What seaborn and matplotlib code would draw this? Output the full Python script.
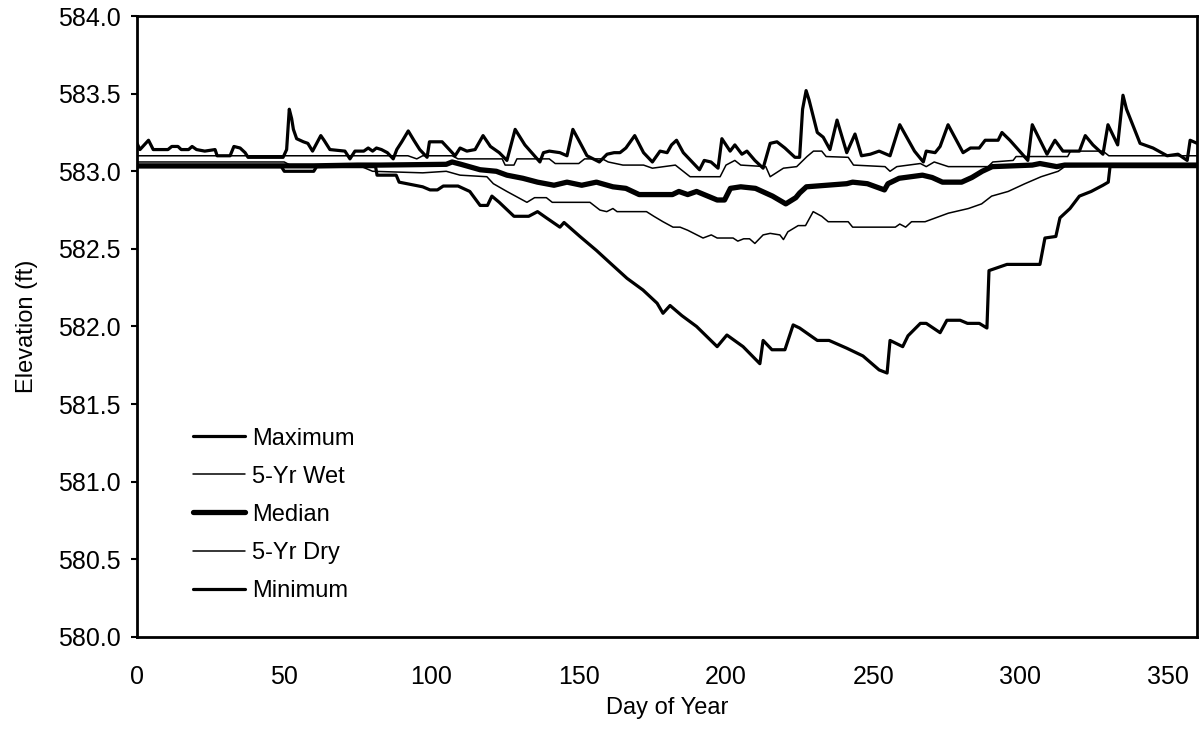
import matplotlib
matplotlib.use("Agg")
import matplotlib.pyplot as plt
import seaborn as sns
import pandas as pd

# Daily lake elevation statistics (ft) by day of year
max_day = [0, 1, 3.9, 5.5, 10.5, 11.8, 13.9, 15, 17.5, 18.7, 20.2, 23, 26.5, 27.2, 31.6, 32.9, 35,
           36.7, 37.7, 49.6, 50.8, 51.7, 52.5, 53.1, 54.2, 56.5, 58, 59.6, 62.4, 63.5, 65.5, 70.6,
           72.3, 74, 77, 78.5, 80, 81.3, 83, 85, 87, 88.2, 89.9, 92.1, 94, 96, 98.5, 99.3, 103.6,
           108, 109.7, 112, 114.8, 117.5, 120, 123, 125.6, 128.4, 131.7, 136.8, 138, 140, 143.6,
           146, 148, 150, 152.8, 157, 159.6, 162, 164, 166, 169, 172, 175, 177.6, 180, 181.5,
           183.2, 185.5, 189, 191, 192.6, 194.9, 197.3, 198.6, 201.4, 203, 205.4, 207.1, 209.8,
           212.6, 215, 217.3, 220, 223.4, 225, 226, 227.2, 228.2, 231, 233, 235.3, 237.7, 241,
           243.8, 246, 249, 252, 255.7, 259, 264, 267, 268, 271, 272.7, 275.4, 280.5, 283, 286,
           288, 292.4, 293.7, 296.4, 302.5, 304, 309, 311.7, 314.4, 320, 322, 324.6, 328, 329.7,
           333, 334.8, 336, 340.6, 345, 349.8, 353.5, 356.6, 357.6, 360]
max_elev = [583.18, 583.14, 583.20, 583.14, 583.14, 583.16, 583.16, 583.14, 583.14, 583.16, 583.14,
            583.13, 583.14, 583.10, 583.10, 583.16, 583.15, 583.12, 583.09, 583.09, 583.14, 583.40,
            583.34, 583.27, 583.21, 583.19, 583.18, 583.13, 583.23, 583.20, 583.14, 583.13, 583.08,
            583.13, 583.13, 583.15, 583.13, 583.15, 583.14, 583.12, 583.08, 583.14, 583.19, 583.26,
            583.20, 583.14, 583.09, 583.19, 583.19, 583.10, 583.15, 583.13, 583.14, 583.23, 583.16,
            583.12, 583.07, 583.27, 583.17, 583.06, 583.12, 583.13, 583.12, 583.10, 583.27, 583.20,
            583.10, 583.06, 583.11, 583.12, 583.12, 583.15, 583.23, 583.12, 583.06, 583.13, 583.12,
            583.17, 583.20, 583.12, 583.05, 583.01, 583.07, 583.06, 583.02, 583.21, 583.13, 583.17,
            583.11, 583.13, 583.07, 583.02, 583.18, 583.19, 583.15, 583.09, 583.09, 583.40, 583.52,
            583.46, 583.25, 583.22, 583.14, 583.33, 583.12, 583.24, 583.10, 583.11, 583.13, 583.10,
            583.30, 583.13, 583.06, 583.13, 583.12, 583.16, 583.30, 583.12, 583.15, 583.15, 583.20,
            583.20, 583.25, 583.20, 583.07, 583.30, 583.11, 583.20, 583.13, 583.13, 583.23, 583.17,
            583.11, 583.30, 583.17, 583.49, 583.40, 583.18, 583.15, 583.10, 583.11, 583.07, 583.20,
            583.18]

wet_day = [0, 92, 95, 97, 107, 109, 124, 125, 128, 129, 140, 142, 150, 152, 158, 160, 165, 172,
           175, 182.8, 187.8, 198, 200, 203, 205, 213.5, 215, 219.5, 224, 227.5, 229.7, 232.5,
           234, 241.5, 243.3, 254, 255.7, 258, 266, 268, 270.7, 275.5, 289, 290.6, 297.5, 298.5,
           316, 317, 328, 330, 360]
wet_elev = [583.10, 583.10, 583.08, 583.10, 583.10, 583.08, 583.08, 583.04, 583.04, 583.08, 583.08,
            583.05, 583.05, 583.08, 583.08, 583.06, 583.04, 583.04, 583.02, 583.04, 582.965, 582.965,
            583.04, 583.07, 583.04, 583.03, 582.965, 583.02, 583.03, 583.095, 583.13, 583.13, 583.095,
            583.09, 583.04, 583.03, 583.00, 583.03, 583.05, 583.03, 583.06, 583.03, 583.03, 583.06,
            583.07, 583.095, 583.095, 583.13, 583.13, 583.10, 583.10]

med_day = [0, 60, 75, 82.5, 105, 107, 110, 116.5, 122, 125.6, 131, 136, 141.6, 146, 151, 156,
           161.6, 166, 170.5, 181.8, 184, 187, 190, 197, 199.5, 201.5, 205, 210, 215.8, 220.3,
           223.7, 225, 227.3, 241, 243, 248, 253.8, 255, 258.8, 266.7, 270, 273.5, 280, 283.5,
           287, 290.4, 304, 306.6, 312.3, 315, 360]
med_elev = [583.035, 583.035, 583.04, 583.04, 583.045, 583.06, 583.045, 583.01, 583.00, 582.975,
            582.955, 582.93, 582.91, 582.93, 582.91, 582.93, 582.90, 582.89, 582.85, 582.85, 582.87,
            582.85, 582.87, 582.815, 582.815, 582.89, 582.90, 582.89, 582.84, 582.79, 582.83, 582.86,
            582.90, 582.92, 582.93, 582.92, 582.88, 582.92, 582.955, 582.975, 582.96, 582.93, 582.93,
            582.96, 583.00, 583.03, 583.04, 583.05, 583.03, 583.04, 583.04]

dry_day = [0, 50, 52, 75, 80, 97, 105, 109.7, 118.8, 121, 125.6, 132.4, 135, 139, 141, 153.8,
           157.2, 159.5, 161.6, 163, 173, 175.5, 178.6, 182, 184.4, 187, 192.2, 195, 197, 202.4,
           204, 206, 208, 209.8, 212.6, 215, 218.3, 219.5, 221, 224.5, 227, 229.6, 232.5, 234.7,
           241.5, 243, 257.5, 259, 261, 263, 267.6, 275.5, 282.3, 286.8, 290.2, 295.8, 301.5,
           307, 312.8, 315, 360]
dry_elev = [583.06, 583.06, 583.04, 583.04, 583.00, 582.99, 583.00, 582.975, 582.965, 582.92,
            582.87, 582.80, 582.83, 582.83, 582.80, 582.80, 582.75, 582.74, 582.76, 582.74, 582.74,
            582.71, 582.675, 582.64, 582.64, 582.62, 582.57, 582.59, 582.57, 582.57, 582.55, 582.565,
            582.565, 582.535, 582.59, 582.60, 582.59, 582.56, 582.61, 582.65, 582.65, 582.74, 582.71,
            582.675, 582.675, 582.64, 582.64, 582.66, 582.64, 582.675, 582.675, 582.73, 582.76,
            582.79, 582.84, 582.87, 582.92, 582.965, 583.00, 583.03, 583.04]

min_day = [0, 49, 50, 60, 61, 81, 81.5, 88, 89, 97, 99.5, 102, 104, 109, 113, 116.5, 119, 120.5,
           123, 128, 133, 136, 139, 143.6, 145, 150.4, 156, 160.6, 166.4, 171.8, 176.6, 178.6,
           181, 185, 190, 197, 200.3, 205.8, 211.5, 212.6, 215.6, 220, 222.8, 225, 231, 235, 241,
           246.5, 252, 254.7, 255.7, 260, 261.8, 266, 268, 272.7, 275, 279.5, 282, 286, 288.6,
           289.3, 295.4, 306.6, 308.3, 312, 313.4, 316.8, 320, 324, 328, 329.8, 330.4, 360]
min_elev = [583.03, 583.03, 583.00, 583.00, 583.03, 583.03, 582.975, 582.975, 582.93, 582.90,
            582.88, 582.88, 582.905, 582.905, 582.87, 582.78, 582.78, 582.84, 582.80, 582.71, 582.71,
            582.74, 582.70, 582.64, 582.67, 582.58, 582.49, 582.41, 582.31, 582.235, 582.15, 582.085,
            582.135, 582.07, 582.00, 581.87, 581.945, 581.87, 581.76, 581.91, 581.85, 581.85, 582.01,
            581.99, 581.91, 581.91, 581.86, 581.81, 581.72, 581.70, 581.91, 581.87, 581.94, 582.02,
            582.02, 581.96, 582.04, 582.04, 582.02, 582.02, 581.99, 582.36, 582.40, 582.40, 582.57,
            582.58, 582.70, 582.76, 582.84, 582.87, 582.91, 582.93, 583.03, 583.03]

series_names = ["Maximum", "5-Yr Wet", "Median", "5-Yr Dry", "Minimum"]
line_widths = {"Maximum": 2.3, "5-Yr Wet": 1.1, "Median": 3.8, "5-Yr Dry": 1.1, "Minimum": 2.3}

frames = []
for name, d, v in [("Maximum", max_day, max_elev), ("5-Yr Wet", wet_day, wet_elev),
                   ("Median", med_day, med_elev), ("5-Yr Dry", dry_day, dry_elev),
                   ("Minimum", min_day, min_elev)]:
    frames.append(pd.DataFrame({"day": d, "elev": v, "series": name}))
df = pd.concat(frames, ignore_index=True)

sns.set_style("white")
plt.rcParams["font.family"] = ["Liberation Sans", "DejaVu Sans"]
plt.rcParams["text.color"] = "black"
plt.rcParams["axes.labelcolor"] = "black"
plt.rcParams["xtick.color"] = "black"
plt.rcParams["ytick.color"] = "black"

fig, ax = plt.subplots(figsize=(12.02, 7.32), dpi=100)
fig.subplots_adjust(left=0.114, right=0.996, bottom=0.130, top=0.978)

handles = []
for name in series_names:
    sub = df[df["series"] == name]
    sns.lineplot(data=sub, x="day", y="elev", color="black", linewidth=line_widths[name],
                 estimator=None, sort=True, ax=ax)
    handles.append(ax.get_lines()[-1])

ax.set_xlim(0, 360)
ax.set_ylim(580, 584)
ax.set_xticks(range(0, 351, 50))
ax.set_yticks([580 + 0.5 * i for i in range(9)])
ax.set_yticklabels([f"{580 + 0.5 * i:.1f}" for i in range(9)])

ax.set_xlabel("Day of Year", fontsize=17, labelpad=6, color="black")
ax.set_ylabel("Elevation (ft)", fontsize=17, labelpad=14, color="black")
ax.tick_params(axis="x", direction="in", length=5, width=1.5, labelsize=18, pad=20,
               colors="black")
ax.tick_params(axis="y", direction="out", length=4, width=1.5, labelsize=18, pad=8,
               colors="black", left=True)

for sp in ax.spines.values():
    sp.set_visible(True)
    sp.set_color("black")
    sp.set_linewidth(2.0)

leg = ax.legend(handles=handles, labels=series_names, loc="upper left",
                bbox_to_anchor=(0.053, 0.337), frameon=False, fontsize=17,
                handlelength=2.2, handletextpad=0.3, labelspacing=0.68,
                borderpad=0, borderaxespad=0)
for t in leg.get_texts():
    t.set_color("black")

fig.savefig("out.png", dpi=100)
